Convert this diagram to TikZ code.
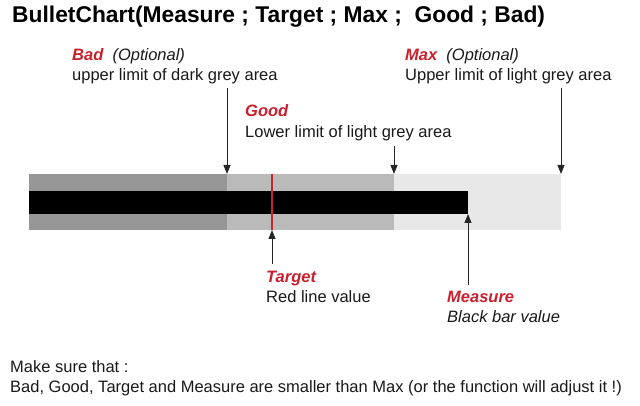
\documentclass[tikz,border=0pt]{standalone}
\usepackage{fontspec}
\setmainfont{Liberation Sans}
\usetikzlibrary{arrows.meta}
\definecolor{badgrey}{RGB}{150,150,150}
\definecolor{goodgrey}{RGB}{186,186,186}
\definecolor{maxgrey}{RGB}{232,232,232}
\definecolor{labelred}{RGB}{200,32,44}
\definecolor{targetred}{RGB}{196,40,40}
\begin{document}
\begin{tikzpicture}[x=1pt, y=-1pt,
    note/.style={anchor=base west, inner sep=0pt, text=black!90, font=\fontsize{16.5}{20}\selectfont},
    keyword/.style={note, text=labelred, font=\fontsize{16.5}{20}\selectfont\bfseries\itshape},
    pointer/.style={-{Triangle[length=9pt,width=7pt]}, line width=1pt, black!85}]
    \useasboundingbox (0,0) rectangle (640,406);

    % Define the corners of the bands
    \coordinate (O) at (29,174);
    \coordinate (bad) at (227,174);
    \coordinate (good) at (394,174);
    \coordinate (max) at (561,174);
    \coordinate (O2) at (29,230);
    \coordinate (bad2) at (227,230);
    \coordinate (good2) at (394,230);
    \coordinate (max2) at (561,230);

    % Draw the bands
    \fill[badgrey] (O) rectangle (bad2);
    \fill[goodgrey] (bad) rectangle (good2);
    \fill[maxgrey] (good) rectangle (max2);

    % Draw the black bar and the red line
    \coordinate (M) at (29,191);
    \coordinate (measure) at (468,214);
    \fill[black] (M) rectangle (measure);
    \coordinate (target) at (272,230);
    \coordinate (target2) at (272,174);
    \draw[targetred, line width=2pt] (target) -- (target2);

    % Title and labels
    \node[note, text=black, font=\fontsize{22.8}{28}\selectfont\bfseries] (title) at (12,23) {BulletChart(Measure ; Target ; Max ;~ Good ; Bad)};
    \node[keyword] (badlbl) at (72,61) {Bad\ \ {\mdseries\color{black!90}(Optional)}};
    \node[note] (badtext) at (72,81) {upper limit of dark grey area};
    \node[keyword] (maxlbl) at (405,61) {Max\ \ {\mdseries\color{black!90}(Optional)}};
    \node[note] (maxtext) at (405,81) {Upper limit of light grey area};
    \node[keyword] (goodlbl) at (245,117) {Good};
    \node[note] (goodtext) at (245,138) {Lower limit of light grey area};
    \node[keyword] (targetlbl) at (266,282) {Target};
    \node[note] (targettext) at (266,302) {Red line value};
    \node[keyword] (measurelbl) at (447,302) {Measure};
    \node[note, font=\fontsize{16.5}{20}\selectfont\itshape] (measuretext) at (447,322) {Black bar value};
    \node[note] (hint) at (10,372) {Make sure that :};
    \node[note] (hint2) at (10,392) {Bad, Good, Target and Measure are smaller than Max (or the function will adjust it !)};

    % Draw the arrows
    \coordinate (badfrom) at (227,88);
    \coordinate (maxfrom) at (561,88);
    \coordinate (goodfrom) at (394,146);
    \coordinate (targetfrom) at (272,264);
    \coordinate (measurefrom) at (468,285);
    \draw[pointer] (badfrom) -- (bad);
    \draw[pointer] (maxfrom) -- (max);
    \draw[pointer] (goodfrom) -- (good);
    \draw[pointer] (targetfrom) -- (target);
    \draw[pointer] (measurefrom) -- (measure);
\end{tikzpicture}
\end{document}
